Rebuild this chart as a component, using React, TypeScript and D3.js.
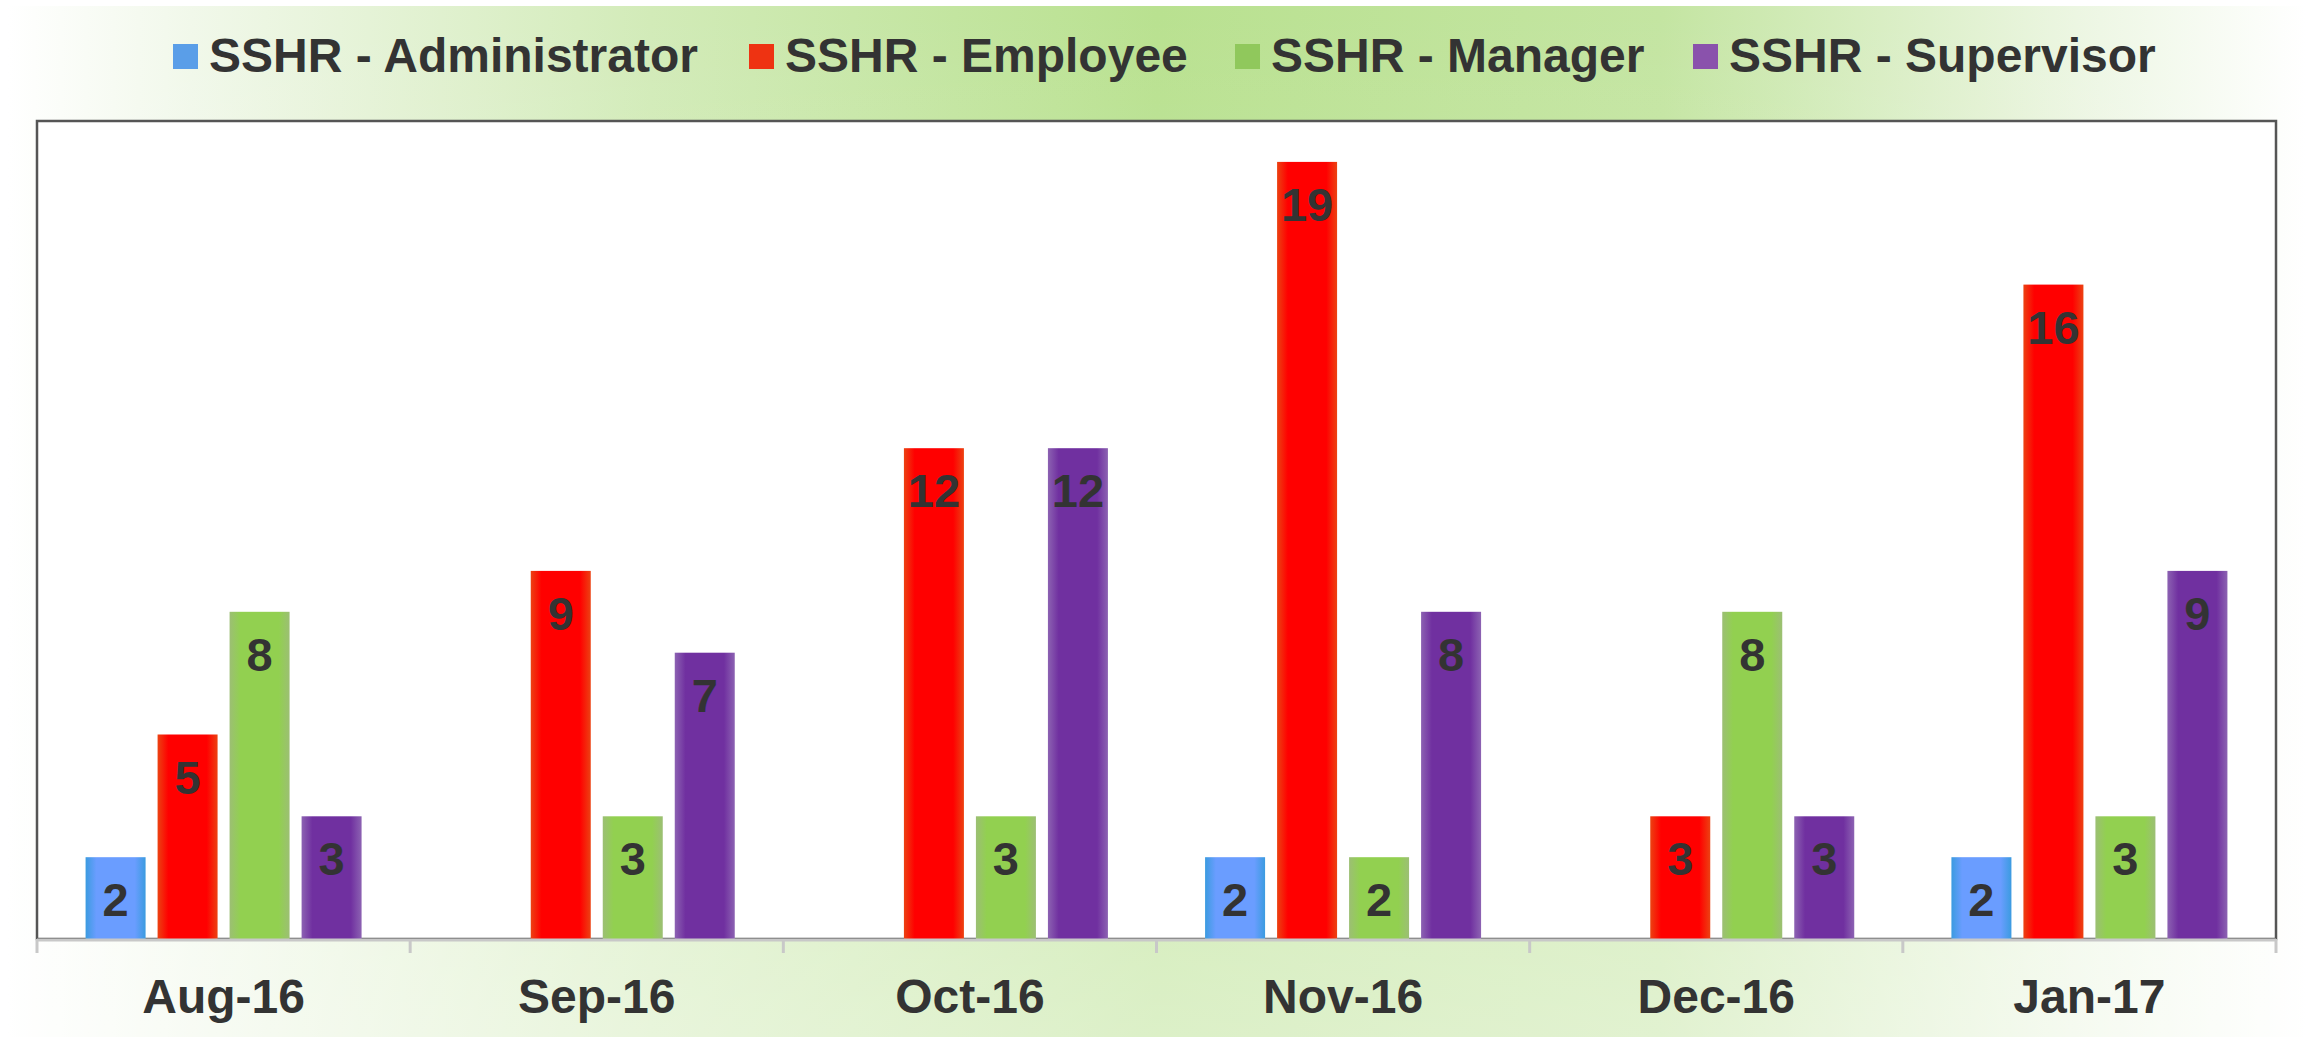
import React from "react";
import * as d3 from "d3";

const categories = ["Aug-16", "Sep-16", "Oct-16", "Nov-16", "Dec-16", "Jan-17"];
const seriesNames = ["SSHR - Administrator", "SSHR - Employee", "SSHR - Manager", "SSHR - Supervisor"];
const administrator: (number | null)[] = [2, null, null, 2, null, 2];
const employee: (number | null)[] = [5, 9, 12, 19, 3, 16];
const manager: (number | null)[] = [8, 3, 3, 2, 8, 3];
const supervisor: (number | null)[] = [3, 7, 12, 8, 3, 9];
const seriesValues = [administrator, employee, manager, supervisor];
const yDomain: [number, number] = [0, 20];

const W = 2313;
const H = 1037;
const plot = { left: 37, right: 2276, top: 121, bottom: 939 };
const barFill = [
  { edge: "#3b9be0", center: "#6a9dff", legend: "#5a9ee8" },
  { edge: "#ec4212", center: "#ff0000", legend: "#ee3312" },
  { edge: "#9cbf74", center: "#92d050", legend: "#90c85c" },
  { edge: "#8c62b2", center: "#7030a0", legend: "#8a52ac" },
];
const legendX = [173, 749, 1235, 1693];
const FONT = "'Liberation Sans', Arial, sans-serif";
const TEXT = "#333333";

export default function App() {
  const x0 = d3.scaleBand<string>().domain(categories).range([plot.left, plot.right]).paddingInner(0).paddingOuter(0);
  const bw = x0.bandwidth();
  const groupW = 276;
  const x1 = d3
    .scaleBand<string>()
    .domain(seriesNames)
    .range([(bw - groupW) / 2, (bw + groupW) / 2])
    .paddingInner(12 / 72);
  const y = d3.scaleLinear().domain(yDomain).range([plot.bottom, plot.top]);
  const boundaries = d3.range(categories.length + 1).map((i) => plot.left + i * bw);

  return (
    <svg width={W} height={H} style={{ position: "absolute", left: 0, top: 0 }} fontFamily={FONT}>
      <defs>
        <linearGradient id="bgH" x1="0" x2="1" y1="0" y2="0">
          <stop offset="0" stopColor="#ffffff" />
          <stop offset="0.08" stopColor="#f1f8ea" />
          <stop offset="0.28" stopColor="#d2ebb8" />
          <stop offset="0.5" stopColor="#b9e190" />
          <stop offset="0.72" stopColor="#c4e5a2" />
          <stop offset="0.9" stopColor="#ecf6e2" />
          <stop offset="1" stopColor="#ffffff" />
        </linearGradient>
        <linearGradient id="bgV" x1="0" x2="0" y1="0" y2="1">
          <stop offset="0" stopColor="#ffffff" stopOpacity="0" />
          <stop offset="0.15" stopColor="#ffffff" stopOpacity="0.05" />
          <stop offset="1" stopColor="#ffffff" stopOpacity="0.5" />
        </linearGradient>
        {barFill.map((f, i) => (
          <linearGradient key={i} id={`bar${i}`} x1="0" x2="1" y1="0" y2="0">
            <stop offset="0" stopColor={f.edge} />
            <stop offset="0.18" stopColor={f.center} />
            <stop offset="0.82" stopColor={f.center} />
            <stop offset="1" stopColor={f.edge} />
          </linearGradient>
        ))}
      </defs>
      <rect x={8} y={6} width={2298} height={1031} fill="url(#bgH)" />
      <rect x={8} y={6} width={2298} height={1031} fill="url(#bgV)" />
      <rect
        x={plot.left}
        y={plot.top}
        width={plot.right - plot.left}
        height={plot.bottom - plot.top}
        fill="#ffffff"
        stroke="#555555"
        strokeWidth={2.5}
      />
      {/* legend */}
      {seriesNames.map((name, i) => (
        <g key={name} transform={`translate(${legendX[i]},0)`}>
          <rect x={0} y={44} width={25} height={25} fill={barFill[i].legend} />
          <text x={36} y={72} fontSize={48} fontWeight="bold" fill={TEXT}>
            {name}
          </text>
        </g>
      ))}
      {/* bars */}
      {categories.map((c, ci) => (
        <g key={c} transform={`translate(${x0(c)},0)`}>
          {seriesNames.map((s, si) => {
            const v = seriesValues[si][ci];
            if (v === null || v === undefined) return null;
            const bx = x1(s) as number;
            const w = x1.bandwidth();
            return (
              <g key={s}>
                <rect x={bx} y={y(v)} width={w} height={y(0) - y(v)} fill={`url(#bar${si})`} />
                <text
                  x={bx + w / 2}
                  y={y(v) + 59}
                  textAnchor="middle"
                  fontSize={47}
                  fontWeight="bold"
                  fill={TEXT}
                >
                  {v}
                </text>
              </g>
            );
          })}
        </g>
      ))}
      {/* axis */}
      <line x1={plot.left} x2={plot.right} y1={plot.bottom + 1} y2={plot.bottom + 1} stroke="#c8c8c8" strokeWidth={3} />
      {boundaries.map((b, i) => (
        <line key={i} x1={b} x2={b} y1={plot.bottom} y2={plot.bottom + 14} stroke="#c8c8c8" strokeWidth={3} />
      ))}
      {categories.map((c) => (
        <text
          key={c}
          x={(x0(c) as number) + bw / 2}
          y={1013}
          textAnchor="middle"
          fontSize={48}
          fontWeight="bold"
          fill={TEXT}
        >
          {c}
        </text>
      ))}
    </svg>
  );
}
